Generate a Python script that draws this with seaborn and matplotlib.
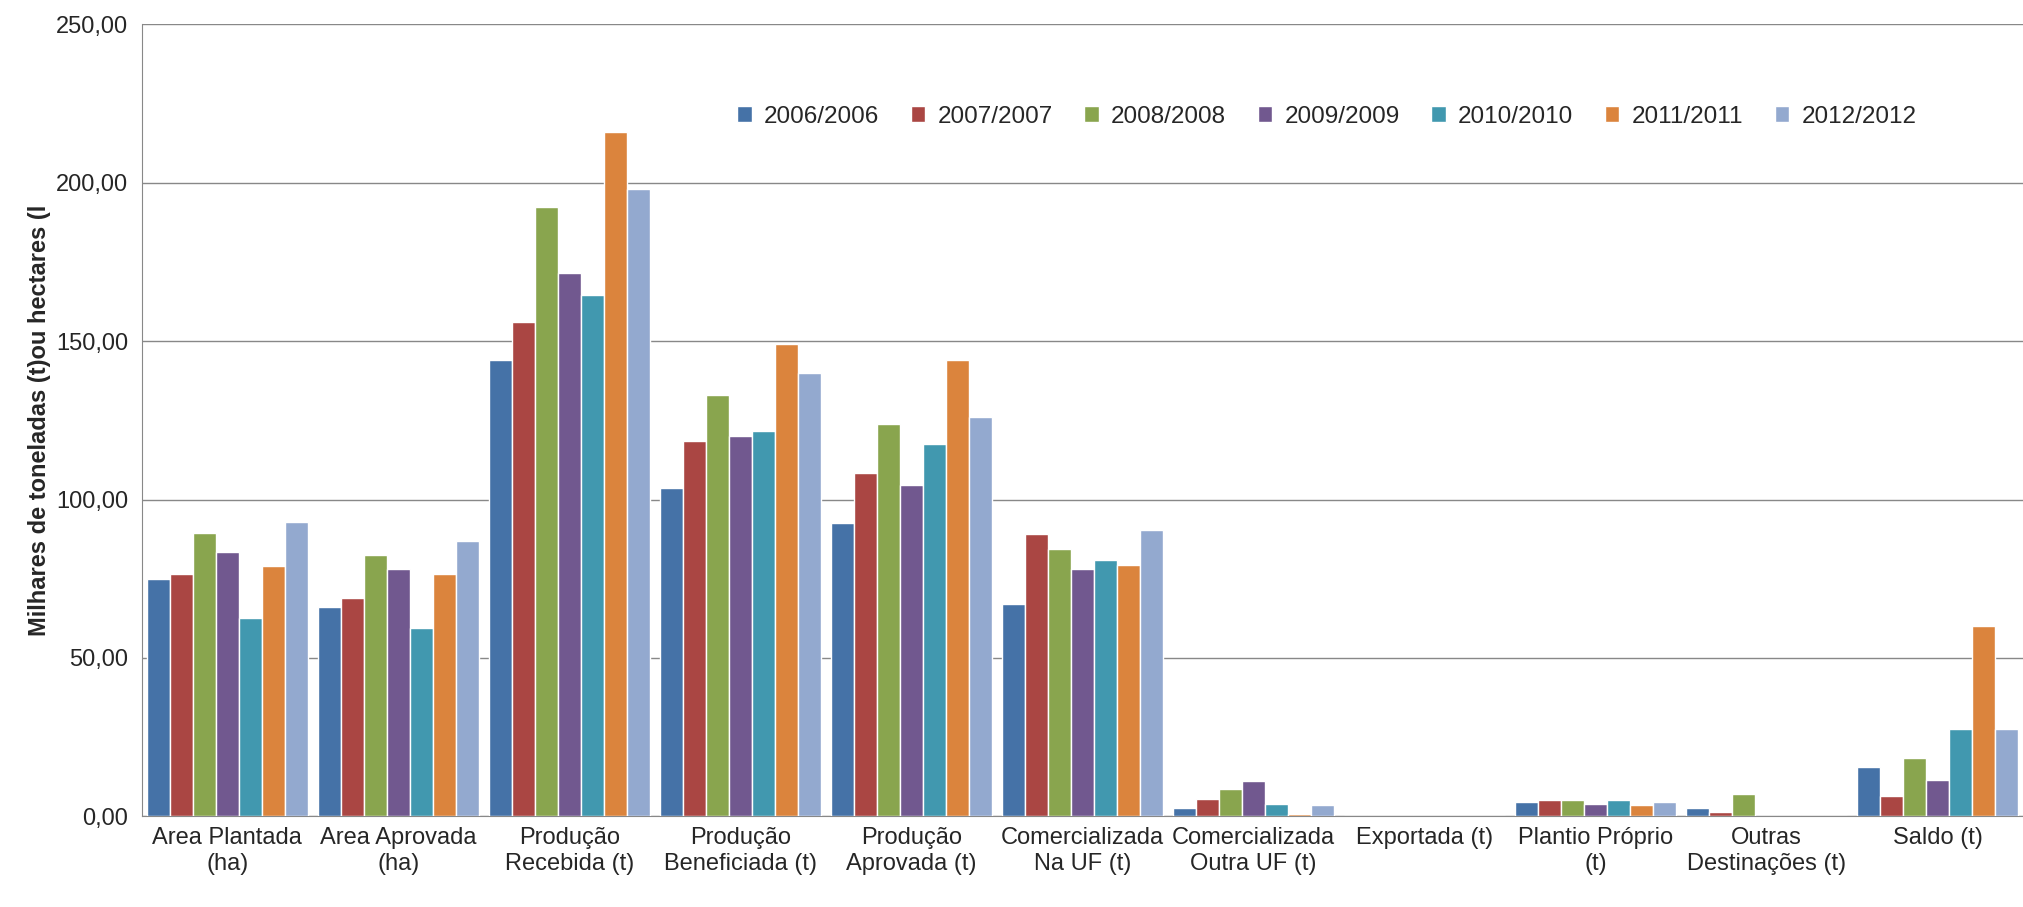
import matplotlib
matplotlib.use("Agg")
import matplotlib.pyplot as plt
import seaborn as sns
import pandas as pd
from matplotlib.ticker import FuncFormatter

categories = ["Area Plantada\n(ha)", "Area Aprovada\n(ha)", "Produção\nRecebida (t)", "Produção\nBeneficiada (t)",
              "Produção\nAprovada (t)", "Comercializada\nNa UF (t)", "Comercializada\nOutra UF (t)", "Exportada (t)",
              "Plantio Próprio\n(t)", "Outras\nDestinações (t)", "Saldo (t)"]
series = ["2006/2006", "2007/2007", "2008/2008", "2009/2009", "2010/2010", "2011/2011", "2012/2012"]
v2006 = [75, 66, 144, 103.5, 92.5, 67, 2.5, 0, 4.5, 2.5, 15.5]
v2007 = [76.5, 69, 156, 118.5, 108.5, 89, 5.5, 0, 5, 1.5, 6.5]
v2008 = [89.5, 82.5, 192.5, 133, 124, 84.5, 8.5, -0.5, 5, 7, 18.5]
v2009 = [83.5, 78, 171.5, 120, 104.5, 78, 11, -0.5, 4, 0, 11.5]
v2010 = [62.5, 59.5, 164.5, 121.5, 117.5, 81, 4, 0, 5, 0, 27.5]
v2011 = [79, 76.5, 216, 149, 144, 79.5, 0.7, 0, 3.5, 0, 60]
v2012 = [93, 87, 198, 140, 126, 90.5, 3.5, -0.3, 4.5, 0, 27.5]
colors = ["#4572A7", "#AA4643", "#89A54E", "#71588F", "#4198AF", "#DB843D", "#93A9CF"]

rows = []
for s, vals in zip(series, [v2006, v2007, v2008, v2009, v2010, v2011, v2012]):
    for c, v in zip(categories, vals):
        rows.append({"cat": c, "serie": s, "val": v})
df = pd.DataFrame(rows)

sns.set_style("white")
plt.rcParams['font.family'] = ['Liberation Sans', 'DejaVu Sans']
fig = plt.figure(figsize=(20.23, 9.07), dpi=100)
ax = fig.add_axes([0.07, 0.1, 0.93, 0.873])
sns.barplot(data=df, x="cat", y="val", hue="serie", palette=colors, width=0.94,
            saturation=1, ax=ax, zorder=3)
ax.set_ylim(0, 250)
ax.set_xlim(-0.5, len(categories) - 0.5)
ax.set_yticks(range(0, 251, 50))
ax.yaxis.set_major_formatter(FuncFormatter(lambda v, p: f"{v:.2f}".replace(".", ",")))
ax.grid(axis="y", color="#888888", linewidth=1, zorder=0)
ax.set_axisbelow(True)
for sp in ["top", "right"]:
    ax.spines[sp].set_visible(False)
ax.spines["left"].set_color("#888888")
ax.spines["bottom"].set_color("#888888")
ax.set_xlabel("")
ax.set_ylabel("Milhares de toneladas (t)ou hectares (l", fontsize=17, fontweight="bold")
ax.tick_params(axis="both", labelsize=17, length=6, color="#888888")
ax.tick_params(axis="x", length=0, pad=8)
ax.set_xticks([i + 0.5 for i in range(len(categories))], minor=True)
ax.tick_params(axis="x", which="minor", length=8, color="#888888")
ax.legend(loc="upper right", bbox_to_anchor=(0.955, 0.925), ncol=7, frameon=False, fontsize=17.5,
          handlelength=0.6, handleheight=0.6, columnspacing=1.3, handletextpad=0.5, title=None)
fig.savefig("out.png", dpi=100)
